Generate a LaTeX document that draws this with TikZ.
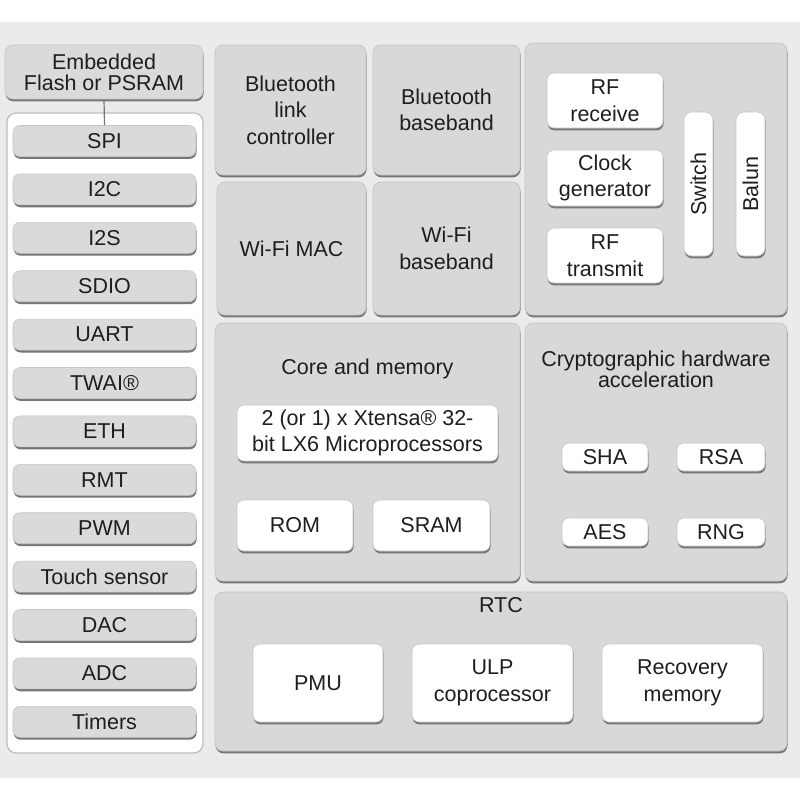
\documentclass[tikz,border=0pt]{standalone}
\usepackage{fontspec}
\setmainfont{Liberation Sans}
\usetikzlibrary{shadows}
\definecolor{bgc}{HTML}{EBEBEB}
\definecolor{panelc}{HTML}{D8D8D8}
\definecolor{itemc}{HTML}{DADADA}
\definecolor{edgec}{HTML}{C6C6C6}
\definecolor{shadc}{HTML}{767676}
\definecolor{txtc}{HTML}{1E1E1E}
\definecolor{lpanel}{HTML}{BDBDBD}
\begin{document}
\begin{tikzpicture}[x=1pt,y=-1pt,
  every node/.style={font=\fontsize{21.5}{26.5}\selectfont, text=txtc, align=center, inner sep=0pt},
  sh/.style={drop shadow={shadow xshift=0.6pt, shadow yshift=-2.4pt, fill=shadc, opacity=1}},
  panel/.style={sh, fill=panelc, draw=edgec, line width=0.8pt, rounded corners=8pt},
  item/.style={sh, fill=itemc, draw=edgec, line width=0.6pt, rounded corners=7pt, minimum width=183pt, minimum height=31pt},
  wbox/.style={sh, fill=white, draw=edgec, line width=0.6pt, rounded corners=7pt},
  title/.style={},
  tight/.style={font=\fontsize{21.5}{21}\selectfont},
]
\useasboundingbox (0,0) rectangle (800,800);
\fill[bgc] (0,22) rectangle (800,778);

% left column
\node[sh, fill=itemc, draw=edgec, line width=0.6pt, rounded corners=8pt, minimum width=198pt, minimum height=54pt, tight] (flash) at (104,72) {Embedded\\Flash or PSRAM};
\node[fill=white, draw=lpanel, line width=1.2pt, rounded corners=9pt, minimum width=196pt, minimum height=640pt] (lpan) at (105,433) {};
\foreach \n/\t [count=\k from 0] in {spi/SPI, itwoc/I2C, itwos/I2S, sdio/SDIO, uart/UART, twai/TWAI®, eth/ETH, rmt/RMT, pwm/PWM, touch/Touch sensor, dac/DAC, adc/ADC, timers/Timers}
  \node[item] (\n) at (104.5,{141+48.4*\k}) {\t};
\draw[line width=1.2pt, draw=shadc] (flash.south) -- (spi.north);

% wireless MAC / baseband
\node[panel, minimum width=151pt, minimum height=130pt] (btlink) at (290.5,110) {Bluetooth\\link\\controller};
\node[panel, minimum width=147pt, minimum height=130pt] (btbase) at (446.5,110) {Bluetooth\\baseband};
\node[panel, minimum width=149pt, minimum height=133pt] (wifimac) at (291.5,248.5) {Wi-Fi MAC};
\node[panel, minimum width=147pt, minimum height=133pt] (wifibase) at (446.5,248.5) {Wi-Fi\\baseband};

% RF
\node[panel, minimum width=262pt, minimum height=272pt] (rf) at (656,179) {};
\node[wbox, minimum width=116pt, minimum height=55pt] (rfrx) at (605,100.5) {RF\\receive};
\node[wbox, minimum width=116pt, minimum height=56pt] (clk) at (605,178) {Clock\\generator};
\node[wbox, minimum width=116pt, minimum height=55pt] (rftx) at (605,255.5) {RF\\transmit};
\node[wbox, rounded corners=8pt, minimum width=29pt, minimum height=144pt] (sw) at (698.5,184) {};
\node[rotate=90] (swt) at (sw.center) {Switch};
\node[wbox, rounded corners=8pt, minimum width=29pt, minimum height=144pt] (balun) at (750.5,184) {};
\node[rotate=90] (balunt) at (balun.center) {Balun};

% core and memory
\node[panel, minimum width=305pt, minimum height=258pt] (core) at (367.5,452) {};
\node (coret) at (367.5,369) {Core and memory};
\node[wbox, minimum width=261pt, minimum height=56pt] (cpu) at (367.5,433) {2 (or 1) x Xtensa® 32-\\bit LX6 Microprocessors};
\node[wbox, minimum width=116pt, minimum height=51pt] (rom) at (295,525.5) {ROM};
\node[wbox, minimum width=117pt, minimum height=51pt] (sram) at (431.5,525.5) {SRAM};

% crypto
\node[panel, minimum width=262pt, minimum height=258pt] (crypto) at (656,452) {};
\node[tight] (cryptot) at (656,369.5) {Cryptographic hardware\\acceleration};
\node[wbox, minimum width=86pt, minimum height=28pt] (sha) at (605,457) {SHA};
\node[wbox, minimum width=88pt, minimum height=28pt] (rsa) at (721,457) {RSA};
\node[wbox, minimum width=86pt, minimum height=28pt] (aes) at (605,532) {AES};
\node[wbox, minimum width=88pt, minimum height=28pt] (rng) at (721,532) {RNG};

% RTC
\node[panel, minimum width=572pt, minimum height=159pt] (rtc) at (501,671.5) {};
\node (rtct) at (501,605) {RTC};
\node[wbox, minimum width=130pt, minimum height=78pt] (pmu) at (318,683) {PMU};
\node[wbox, minimum width=161pt, minimum height=78pt] (ulp) at (492.5,683) {ULP\\coprocessor};
\node[wbox, minimum width=161pt, minimum height=78pt] (rec) at (682.5,683) {Recovery\\memory};
\end{tikzpicture}
\end{document}
